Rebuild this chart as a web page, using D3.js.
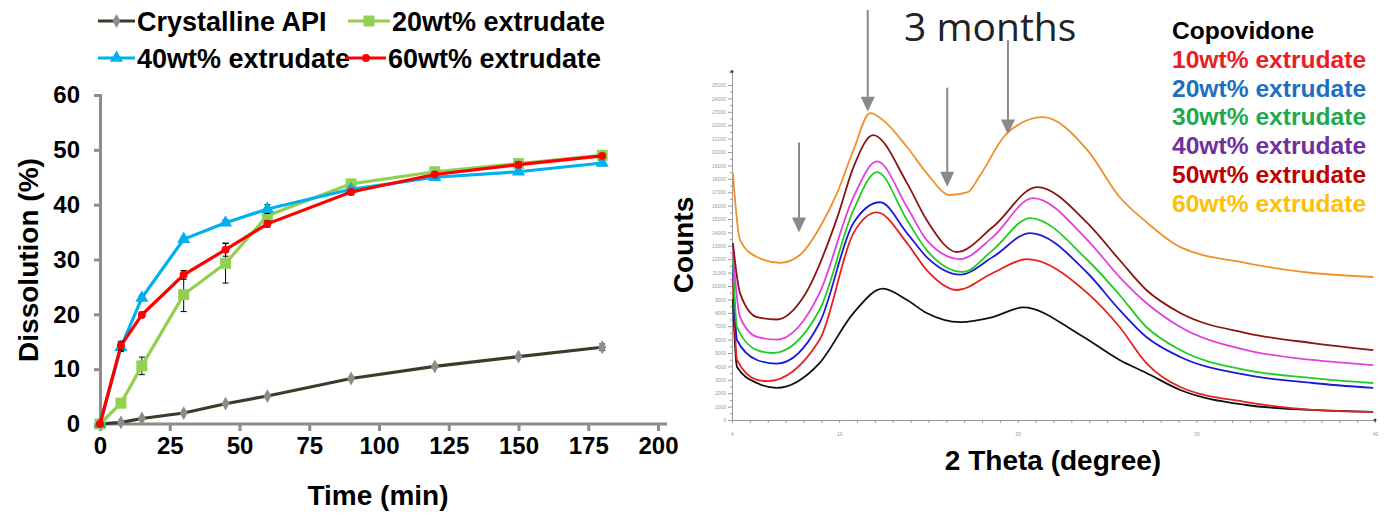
<!DOCTYPE html>
<html lang="en">
<head>
<meta charset="utf-8" />
<title>Dissolution and XRD</title>
<script src="https://d3js.org/d3.v7.min.js"></script>
<style>
    body, html { margin: 0; padding: 0; background: #fff; overflow: hidden; }
    svg text { font-family: "Liberation Sans", Arial, sans-serif; }
</style>
</head>
<body>
<svg id="chart" width="1387" height="513"></svg>
<script>
// dissolution profiles (left panel)
const times = [0, 7.5, 15, 30, 45, 60, 90, 120, 150, 180];
const apiVals = [0, 0.3, 1.0, 2.0, 3.7, 5.1, 8.3, 10.5, 12.3, 14.0];
const apiErr = [0, 0, 0, 0, 0, 0, 0, 0, 0, 0.6];
const ext20Vals = [0, 3.8, 10.6, 23.6, 29.3, 38.0, 43.8, 46.0, 47.5, 49.0];
const ext20Err = [0, 0.6, 1.6, 3.1, 3.6, 1.0, 0.6, 0.5, 0.6, 0.5];
const ext40Vals = [0, 14.0, 23.0, 33.7, 36.7, 39.2, 42.8, 45.0, 46.0, 47.6];
const ext40Err = [0, 0.8, 0.5, 0.4, 0.5, 0.8, 0.5, 0.4, 0.4, 0.5];
const ext60Vals = [0, 14.3, 19.9, 27.2, 31.8, 36.5, 42.3, 45.5, 47.3, 48.9];
const ext60Err = [0, 0.8, 0.5, 0.8, 1.2, 0.6, 0.5, 0.4, 0.5, 0.4];
const timeTicks = [0, 25, 50, 75, 100, 125, 150, 175, 200];
const dissTicks = [0, 10, 20, 30, 40, 50, 60];

// XRD patterns after 3 months (right panel), [2theta, counts]
const xrdCopovidone = [[4.05, 9000], [4.28, 3950], [5.4, 2760], [6.5, 2400], [8.9, 4250], [10.8, 7980], [12.45, 9800], [13.8, 8950], [14.9, 7980], [16.77, 7300], [18.6, 7680], [20.3, 8400], [23.5, 6340], [25.7, 4480], [27.2, 3510], [29.1, 2240], [32.8, 1120], [36.5, 750], [39.9, 600]];
const xrd10 = [[4.05, 11000], [4.28, 4480], [5.4, 3000], [6.0, 2900], [8.9, 5970], [10.8, 13950], [12.12, 15500], [13.8, 13200], [14.9, 11190], [16.6, 9700], [18.6, 10970], [20.5, 12000], [23.9, 9470], [25.7, 6940], [27.2, 4250], [29.1, 2460], [32.8, 1340], [36.5, 750], [39.9, 600]];
const xrd20 = [[4.05, 11500], [4.28, 5970], [5.4, 4480], [6.5, 4200], [8.9, 7240], [10.8, 14700], [12.29, 16250], [13.8, 13950], [14.9, 12160], [16.77, 10850], [18.6, 12160], [20.7, 13950], [23.9, 10970], [25.7, 8210], [27.2, 6190], [29.1, 4700], [32.8, 3360], [36.5, 2760], [39.9, 2390]];
const xrd30 = [[4.05, 12000], [4.28, 6940], [5.4, 5220], [6.3, 5000], [8.9, 8210], [10.8, 15670], [12.12, 18500], [13.8, 14920], [14.9, 12680], [16.93, 11050], [18.6, 12680], [20.7, 15070], [23.9, 11940], [25.7, 9330], [27.2, 6940], [29.1, 5220], [32.8, 3730], [36.5, 3130], [39.9, 2760]];
const xrd40 = [[4.05, 12500], [4.45, 7680], [5.4, 6200], [6.5, 6000], [8.9, 9470], [10.8, 16640], [12.12, 19300], [13.8, 15890], [14.9, 13430], [16.77, 12010], [18.6, 13650], [20.85, 16560], [23.9, 13430], [25.7, 10670], [27.2, 8730], [29.1, 6940], [32.8, 5220], [36.5, 4480], [39.9, 4100]];
const xrd50 = [[4.05, 13200], [4.45, 9470], [5.4, 7680], [6.5, 7500], [8.0, 9180], [9.9, 15140], [10.8, 18870], [11.9, 21260], [13.8, 17680], [14.9, 14920], [16.6, 12530], [18.6, 14400], [21.08, 17380], [23.9, 14700], [25.7, 11940], [27.2, 9700], [29.1, 7980], [32.8, 6490], [36.5, 5740], [39.9, 5220]];
const xrd60 = [[4.05, 18400], [4.45, 13430], [5.4, 12160], [6.7, 11730], [7.8, 12310], [8.93, 14400], [9.88, 16930], [10.8, 20140], [11.73, 22900], [12.45, 22380], [13.8, 20370], [14.9, 18430], [16.2, 16790], [17.2, 17000], [17.9, 18280], [19.4, 21410], [21.4, 22600], [23.9, 20140], [25.7, 16640], [27.2, 14770], [29.1, 12900], [32.8, 11710], [36.5, 10970], [39.9, 10670]];
const xrdLabels = ["Copovidone", "10wt% extrudate", "20wt% extrudate", "30wt% extrudate", "40wt% extrudate", "50wt% extrudate", "60wt% extrudate"];
// arrows: [2theta, tail counts, tip counts]
const arrows = [[7.75, 20700, 14000], [11.6, 30600, 23000], [16.05, 24800, 17400], [19.45, 28350, 21300]];

const svg = d3.select("#chart");

// ---------------- left panel ----------------
const x = d3.scaleLinear().domain([0, 200]).range([100, 658]);
const y = d3.scaleLinear().domain([0, 60]).range([424, 95]);

const left = svg.append("g");

const xAxis = left.append("g")
    .attr("transform", "translate(0,424)")
    .call(d3.axisBottom(x).tickValues(timeTicks).tickSize(7).tickPadding(6));
const yAxis = left.append("g")
    .attr("transform", "translate(100,0)")
    .call(d3.axisLeft(y).tickValues(dissTicks).tickSize(6).tickPadding(14));
[xAxis, yAxis].forEach(a => {
    a.select(".domain").attr("stroke", "#8c8c8c").attr("stroke-width", 3);
    a.selectAll(".tick line").attr("stroke", "#8c8c8c").attr("stroke-width", 3);
    a.selectAll(".tick text").attr("fill", "#000").style("font-size", "24px").style("font-weight", "bold");
});
xAxis.select(".domain").attr("d", "M100,0H667");

left.append("text")
    .attr("x", 378).attr("y", 505)
    .attr("text-anchor", "middle")
    .style("font-size", "28px").style("font-weight", "bold")
    .text("Time (min)");
left.append("text")
    .attr("transform", "translate(38,260) rotate(-90)")
    .attr("text-anchor", "middle")
    .style("font-size", "28px").style("font-weight", "bold")
    .text("Dissolution (%)");

const series = [
    { name: "Crystalline API", vals: apiVals, err: apiErr, line: "#3b3b28", fill: "#8c8c8c", symbol: d3.symbolDiamond, size: 55 },
    { name: "20wt% extrudate", vals: ext20Vals, err: ext20Err, line: "#92d050", fill: "#92d050", symbol: d3.symbolSquare, size: 120 },
    { name: "40wt% extrudate", vals: ext40Vals, err: ext40Err, line: "#00b0f0", fill: "#00b0f0", symbol: d3.symbolTriangle, size: 75 },
    { name: "60wt% extrudate", vals: ext60Vals, err: ext60Err, line: "#ff0000", fill: "#ff0000", symbol: d3.symbolCircle, size: 50 }
];

const line = d3.line().x(d => x(d.t)).y(d => y(d.v));

series.forEach(s => {
    const pts = times.map((t, i) => ({ t: t, v: s.vals[i], e: s.err[i] }));
    const g = left.append("g");
    g.append("path")
        .datum(pts)
        .attr("fill", "none")
        .attr("stroke", s.line)
        .attr("stroke-width", 3.2)
        .attr("d", line);
    const eb = g.selectAll(".err").data(pts.filter(p => p.e > 0)).enter().append("g");
    eb.append("line")
        .attr("x1", d => x(d.t)).attr("x2", d => x(d.t))
        .attr("y1", d => y(d.v - d.e)).attr("y2", d => y(d.v + d.e))
        .attr("stroke", "#000").attr("stroke-width", 1);
    [-1, 1].forEach(k => {
        eb.append("line")
            .attr("x1", d => x(d.t) - 3).attr("x2", d => x(d.t) + 3)
            .attr("y1", d => y(d.v + k * d.e)).attr("y2", d => y(d.v + k * d.e))
            .attr("stroke", "#000").attr("stroke-width", 1);
    });
    g.selectAll(".pt").data(pts).enter().append("path")
        .attr("transform", d => `translate(${x(d.t)},${y(d.v)})`)
        .attr("d", d3.symbol().type(s.symbol).size(s.size))
        .attr("fill", s.fill);
});

// legend: [line start, line end, y]
const legendPos = [[98, 135, 21], [348, 390, 21], [98, 135, 58], [346, 386, 58]];
series.forEach((s, i) => {
    const [lx0, lx1, ly] = legendPos[i];
    const lg = left.append("g").attr("transform", `translate(${lx0},${ly})`);
    lg.append("line").attr("x1", 0).attr("x2", lx1 - lx0).attr("y1", 0).attr("y2", 0)
        .attr("stroke", s.line).attr("stroke-width", 3.2);
    lg.append("path").attr("transform", `translate(${(lx1 - lx0) / 2},0)`)
        .attr("d", d3.symbol().type(s.symbol).size(s.size)).attr("fill", s.fill);
    lg.append("text").attr("x", lx1 - lx0 + 2).attr("y", 10)
        .style("font-size", "27px").style("font-weight", "bold")
        .text(s.name);
});

// ---------------- right panel ----------------
const x2 = d3.scaleLinear().domain([4, 40]).range([732, 1375]);
const y2 = d3.scaleLinear().domain([0, 26000]).range([420, 71.6]);
const right = svg.append("g");

const xa2 = right.append("g")
    .attr("transform", "translate(0,420)")
    .call(d3.axisBottom(x2).tickValues(d3.range(4, 41, 1)).tickSize(3).tickPadding(9)
        .tickFormat(d => [4, 10, 20, 30, 40].includes(d) ? d : ""));
const ya2 = right.append("g")
    .attr("transform", "translate(732,0)")
    .call(d3.axisLeft(y2).tickValues(d3.range(0, 25001, 500)).tickSize(3).tickPadding(3)
        .tickFormat(d => d % 1000 === 0 ? d : ""));
[xa2, ya2].forEach(a => {
    a.select(".domain").attr("stroke", "#999").attr("stroke-width", 1);
    a.selectAll(".tick line").attr("stroke", "#999");
    a.selectAll(".tick text").attr("fill", "#999").style("font-size", "5px");
});
ya2.selectAll(".tick line").attr("x2", d => d % 1000 === 0 ? -4 : -2);
right.append("circle").attr("cx", 732).attr("cy", 71.6).attr("r", 1.5).attr("fill", "#444");
right.append("circle").attr("cx", 1375).attr("cy", 420).attr("r", 1.5).attr("fill", "#444");

const xrdSeries = [
    { data: xrdCopovidone, color: "#111111" },
    { data: xrd10, color: "#e82020" },
    { data: xrd20, color: "#1a1ad8" },
    { data: xrd30, color: "#22cc22" },
    { data: xrd40, color: "#e040e0" },
    { data: xrd50, color: "#8b1414" },
    { data: xrd60, color: "#f0902a" }
];
const line2 = d3.line().x(d => x2(d[0])).y(d => y2(d[1])).curve(d3.curveMonotoneX);
xrdSeries.forEach(s => {
    right.append("path")
        .datum(s.data)
        .attr("fill", "none")
        .attr("stroke", s.color)
        .attr("stroke-width", 1.8)
        .attr("d", line2);
});

// arrows
arrows.forEach(a => {
    const ax = x2(a[0]), ay0 = y2(a[1]), ay1 = y2(a[2]);
    right.append("line")
        .attr("x1", ax).attr("x2", ax).attr("y1", Math.max(ay0, 10)).attr("y2", ay1 - 12)
        .attr("stroke", "#8a8a8a").attr("stroke-width", 2);
    right.append("path")
        .attr("d", `M${ax - 7},${ay1 - 15}L${ax + 7},${ay1 - 15}L${ax},${ay1}Z`)
        .attr("fill", "#8a8a8a");
});

right.append("text")
    .attr("x", 904).attr("y", 41)
    .style("font-size", "39px")
    .style("font-family", "'Open Sans', 'Liberation Sans', sans-serif")
    .attr("fill", "#222")
    .text("3 months");

right.append("text")
    .attr("x", 1053).attr("y", 470)
    .attr("text-anchor", "middle")
    .style("font-size", "28px").style("font-weight", "bold")
    .text("2 Theta (degree)");
right.append("text")
    .attr("transform", "translate(693,245) rotate(-90)")
    .attr("text-anchor", "middle")
    .style("font-size", "28px").style("font-weight", "bold")
    .text("Counts");

const legendColors = ["#000000", "#ee1c24", "#1f6fc0", "#1daa4e", "#7030a0", "#c00000", "#ffc000"];
right.selectAll(".leg").data(xrdLabels).enter().append("text")
    .attr("x", 1172)
    .attr("y", (d, i) => 39 + i * 28.8)
    .style("font-size", "24.6px").style("font-weight", "bold")
    .attr("fill", (d, i) => legendColors[i])
    .text(d => d);
</script>
</body>
</html>
